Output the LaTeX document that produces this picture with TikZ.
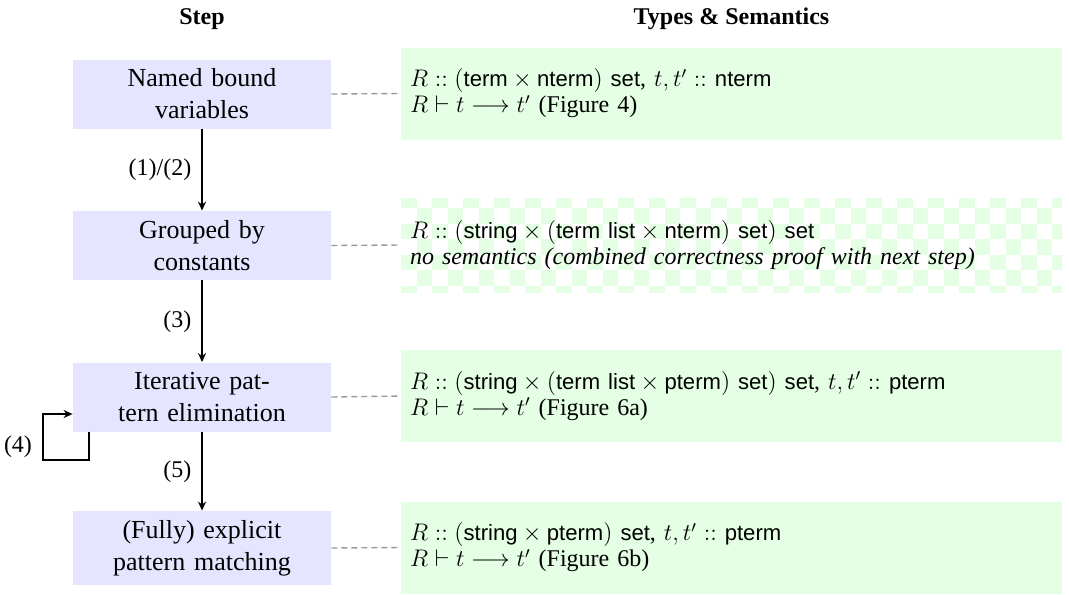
\documentclass[tikz,border=0pt]{standalone}
\usepackage{fontspec}
\setmainfont{Liberation Serif}
\setsansfont{Liberation Sans}[Scale=0.92]
\usetikzlibrary{arrows.meta,calc}
\begin{document}
\begin{tikzpicture}[x=0.5pt,y=-0.5pt,
  stepbox/.style={fill=blue!10, minimum width=129pt, minimum height=34.5pt,
    text width=122pt, align=center, inner sep=0pt,
    font=\fontsize{13}{16}\selectfont},
  sembox/.style={fill=green!10, minimum width=330.5pt, minimum height=46pt,
    text width=321.5pt, align=left, inner xsep=4.5pt, inner ysep=0pt,
    font=\fontsize{12}{13}\selectfont},
  chkbox/.style={sembox, fill=none, path picture={
    \foreach \i in {0,...,42}{\foreach \j in {0,...,6}{
      \pgfmathtruncatemacro\pp{mod(\i+\j,2)}
      \ifnum\pp=0
        \fill[green!10] ($(path picture bounding box.north west)+(\i*15.5,\j*15.5-5.5)$) rectangle ++(15.5,15.5);
      \fi}}}},
  hdr/.style={font=\bfseries\fontsize{12}{14}\selectfont},
  arr/.style={line width=0.75pt, -{Stealth[length=4.5pt,width=4pt]}},
  lbl/.style={left, inner xsep=5pt, font=\fontsize{12}{14}\selectfont},
  dashline/.style={gray!80, line width=0.7pt, dash pattern=on 3pt off 2pt}
]
\useasboundingbox (0,0) rectangle (1069,594);

\node[hdr] (h1) at (202,19) {Step};
\node[hdr] (h2) at (731.5,19) {Types \& Semantics};

\node[stepbox] (s1) at (202,94) {Named bound\\variables};
\node[stepbox] (s2) at (202,245.5) {Grouped by\\constants};
\node[stepbox] (s3) at (202,397) {Iterative pat-\\tern elimination};
\node[stepbox, minimum height=37pt] (s4) at (202,548) {(Fully) explicit\\pattern matching};

\node[sembox] (g1) at (731.5,93.5) {$R \mathrel{::} (\textsf{term} \times \textsf{nterm})$ \textsf{set}, $t, t' \mathrel{::}$ \textsf{nterm}\\
  $R \vdash t \longrightarrow t'$ (Figure 4)};
\node[chkbox, minimum height=47pt] (g2) at (731.5,245) {$R \mathrel{::} (\textsf{string} \times (\textsf{term list} \times \textsf{nterm})$ \textsf{set}$)$ \textsf{set}\\
  \textit{no semantics (combined correctness proof with next step)}};
\node[sembox] (g3) at (731.5,396) {$R \mathrel{::} (\textsf{string} \times (\textsf{term list} \times \textsf{pterm})$ \textsf{set}$)$ \textsf{set}, $t, t' \mathrel{::}$ \textsf{pterm}\\
  $R \vdash t \longrightarrow t'$ (Figure 6a)};
\node[sembox] (g4) at (731.5,547.5) {$R \mathrel{::} (\textsf{string} \times \textsf{pterm})$ \textsf{set}, $t, t' \mathrel{::}$ \textsf{pterm}\\
  $R \vdash t \longrightarrow t'$ (Figure 6b)};

\draw[dashline] (s1.east) -- (g1.west);
\draw[dashline] (s2.east) -- (g2.west);
\draw[dashline] (s3.east) -- (g3.west);
\draw[dashline] (s4.east) -- (g4.west);

\draw[arr] (s1) -- node[lbl] {(1)/(2)} (s2);
\draw[arr] (s2) -- node[lbl] {(3)} (s3);
\draw[arr] (s3) -- node[lbl] {(5)} (s4);

\coordinate (loopA) at (89,460);
\coordinate (loopB) at (43,414);
\draw[arr] (s3.south -| loopA) -- (loopA) -| (loopB) -- (loopB -| s3.west);
\node[font=\fontsize{12}{14}\selectfont] (l4) at (18,447) {(4)};
\end{tikzpicture}
\end{document}
